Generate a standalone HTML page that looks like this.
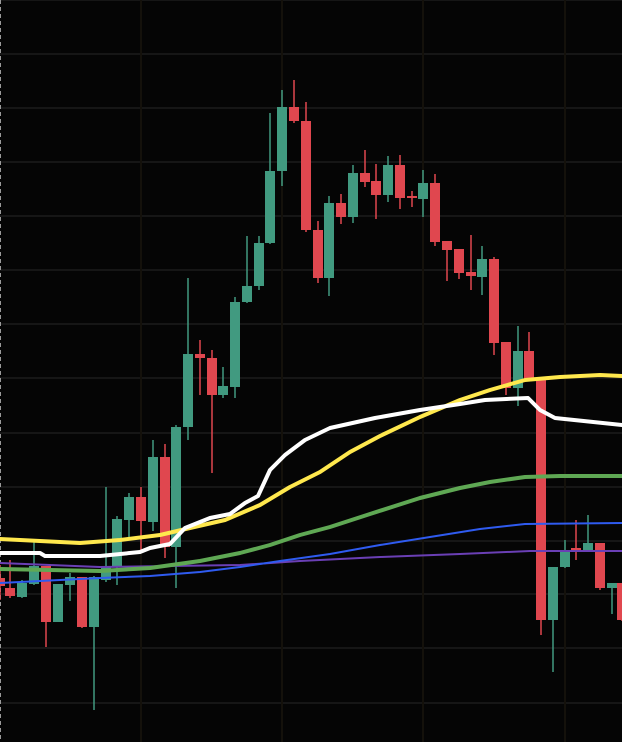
<!DOCTYPE html><html><head><style>html,body{margin:0;padding:0;background:#050505;}svg{display:block}</style></head><body>
<svg width="622" height="742" viewBox="0 0 622 742" xmlns="http://www.w3.org/2000/svg">
<rect width="622" height="742" fill="#050505"/>
<g stroke="#161616" stroke-width="2">
<line x1="0" y1="0" x2="622" y2="0"/><line x1="0" y1="54" x2="622" y2="54"/><line x1="0" y1="108" x2="622" y2="108"/><line x1="0" y1="162" x2="622" y2="162"/><line x1="0" y1="216" x2="622" y2="216"/><line x1="0" y1="270" x2="622" y2="270"/><line x1="0" y1="324" x2="622" y2="324"/><line x1="0" y1="378" x2="622" y2="378"/><line x1="0" y1="433" x2="622" y2="433"/><line x1="0" y1="487" x2="622" y2="487"/><line x1="0" y1="541" x2="622" y2="541"/><line x1="0" y1="594" x2="622" y2="594"/><line x1="0" y1="648" x2="622" y2="648"/><line x1="0" y1="703" x2="622" y2="703"/>
</g>
<g stroke="#14110b" stroke-width="2"><line x1="141" y1="0" x2="141" y2="742"/><line x1="282" y1="0" x2="282" y2="742"/><line x1="423" y1="0" x2="423" y2="742"/><line x1="565" y1="0" x2="565" y2="742"/></g>
<line x1="0.5" y1="0" x2="0.5" y2="742" stroke="#9a9a9a" stroke-dasharray="4 3"/>
<g fill="#419a80">
<rect x="21.25" y="580" width="1.5" height="18"/><rect x="17" y="583" width="10" height="14"/>
<rect x="33.25" y="542" width="1.5" height="43"/><rect x="29" y="566" width="10" height="18"/>
<rect x="57.25" y="584" width="1.5" height="38"/><rect x="53" y="584" width="10" height="38"/>
<rect x="69.25" y="573" width="1.5" height="28"/><rect x="65" y="577" width="10" height="8"/>
<rect x="93.25" y="576" width="1.5" height="134"/><rect x="89" y="577" width="10" height="50"/>
<rect x="105.25" y="487" width="1.5" height="95"/><rect x="101" y="566" width="10" height="14"/>
<rect x="116.25" y="516" width="1.5" height="69"/><rect x="112" y="519" width="10" height="47"/>
<rect x="128.25" y="493" width="1.5" height="45"/><rect x="124" y="497" width="10" height="23"/>
<rect x="152.25" y="440" width="1.5" height="91"/><rect x="148" y="457" width="10" height="65"/>
<rect x="175.25" y="425" width="1.5" height="163"/><rect x="171" y="427" width="10" height="120"/>
<rect x="187.25" y="278" width="1.5" height="162"/><rect x="183" y="354" width="10" height="73"/>
<rect x="222.25" y="367" width="1.5" height="31"/><rect x="218" y="386" width="10" height="9"/>
<rect x="234.25" y="297" width="1.5" height="101"/><rect x="230" y="302" width="10" height="85"/>
<rect x="246.25" y="236" width="1.5" height="67"/><rect x="242" y="286" width="10" height="16"/>
<rect x="258.25" y="236" width="1.5" height="54"/><rect x="254" y="243" width="10" height="43"/>
<rect x="269.25" y="113" width="1.5" height="131"/><rect x="265" y="171" width="10" height="72"/>
<rect x="281.25" y="90" width="1.5" height="96"/><rect x="277" y="107" width="10" height="64"/>
<rect x="328.25" y="196" width="1.5" height="100"/><rect x="324" y="203" width="10" height="75"/>
<rect x="352.25" y="165" width="1.5" height="58"/><rect x="348" y="173" width="10" height="44"/>
<rect x="387.25" y="156" width="1.5" height="46"/><rect x="383" y="165" width="10" height="30"/>
<rect x="422.25" y="170" width="1.5" height="47"/><rect x="418" y="183" width="10" height="16"/>
<rect x="481.25" y="246" width="1.5" height="49"/><rect x="477" y="259" width="10" height="18"/>
<rect x="517.25" y="326" width="1.5" height="80"/><rect x="513" y="351" width="10" height="37"/>
<rect x="552.25" y="567" width="1.5" height="105"/><rect x="548" y="567" width="10" height="53"/>
<rect x="564.25" y="540" width="1.5" height="28"/><rect x="560" y="550" width="10" height="17"/>
<rect x="587.25" y="515" width="1.5" height="36"/><rect x="583" y="543" width="10" height="7"/>
<rect x="611.25" y="583" width="1.5" height="31"/><rect x="607" y="583" width="10" height="5"/>
</g>
<g fill="#e0474f">
<rect x="-0.75" y="565" width="1.5" height="35"/><rect x="-5" y="578" width="10" height="8"/>
<rect x="9.25" y="560" width="1.5" height="38"/><rect x="5" y="588" width="10" height="8"/>
<rect x="45.25" y="566" width="1.5" height="81"/><rect x="41" y="566" width="10" height="56"/>
<rect x="81.25" y="577" width="1.5" height="51"/><rect x="77" y="577" width="10" height="50"/>
<rect x="140.25" y="487" width="1.5" height="66"/><rect x="136" y="497" width="10" height="24"/>
<rect x="164.25" y="444" width="1.5" height="114"/><rect x="160" y="457" width="10" height="90"/>
<rect x="199.25" y="340" width="1.5" height="55"/><rect x="195" y="354" width="10" height="4"/>
<rect x="211.25" y="350" width="1.5" height="123"/><rect x="207" y="358" width="10" height="37"/>
<rect x="293.25" y="80" width="1.5" height="43"/><rect x="289" y="107" width="10" height="14"/>
<rect x="305.25" y="102" width="1.5" height="130"/><rect x="301" y="121" width="10" height="109"/>
<rect x="317.25" y="221" width="1.5" height="62"/><rect x="313" y="230" width="10" height="48"/>
<rect x="340.25" y="194" width="1.5" height="30"/><rect x="336" y="203" width="10" height="14"/>
<rect x="364.25" y="150" width="1.5" height="37"/><rect x="360" y="173" width="10" height="9"/>
<rect x="375.25" y="164" width="1.5" height="55"/><rect x="371" y="181" width="10" height="14"/>
<rect x="399.25" y="155" width="1.5" height="54"/><rect x="395" y="165" width="10" height="33"/>
<rect x="411.25" y="191" width="1.5" height="16"/><rect x="407" y="196" width="10" height="2"/>
<rect x="434.25" y="174" width="1.5" height="72"/><rect x="430" y="183" width="10" height="59"/>
<rect x="446.25" y="241" width="1.5" height="40"/><rect x="442" y="241" width="10" height="9"/>
<rect x="458.25" y="249" width="1.5" height="30"/><rect x="454" y="249" width="10" height="24"/>
<rect x="470.25" y="235" width="1.5" height="55"/><rect x="466" y="272" width="10" height="4"/>
<rect x="493.25" y="257" width="1.5" height="98"/><rect x="489" y="259" width="10" height="84"/>
<rect x="505.25" y="342" width="1.5" height="53"/><rect x="501" y="342" width="10" height="46"/>
<rect x="528.25" y="332" width="1.5" height="49"/><rect x="524" y="351" width="10" height="29"/>
<rect x="540.25" y="380" width="1.5" height="255"/><rect x="536" y="380" width="10" height="240"/>
<rect x="575.25" y="520" width="1.5" height="40"/><rect x="571" y="548" width="10" height="3"/>
<rect x="599.25" y="543" width="1.5" height="47"/><rect x="595" y="543" width="10" height="45"/>
<rect x="621.25" y="583" width="1.5" height="38"/><rect x="617" y="583" width="10" height="37"/>
</g>
<g fill="none" stroke-linejoin="round" stroke-linecap="round">
<polyline stroke="#6a3fb5" stroke-width="2" points="0,563 100,567 170,566 240,565 300,561 380,557 460,554 530,551 622,551"/>
<polyline stroke="#2f5bf0" stroke-width="2" points="0,583 100,578 150,576 200,572 240,567 280,561 330,554 380,545 430,537 480,529 525,524 622,523"/>
<polyline stroke="#5fa854" stroke-width="4" points="0,569 100,571 150,568 200,561 240,553 270,545 300,535 330,527 370,514 420,498 460,488 490,482 525,477 560,476 622,476"/>
<polyline stroke="#ffe84d" stroke-width="4" points="0,539 40,541 80,543 120,540 160,535 190,528 225,520 260,505 290,487 320,472 350,452 380,436 420,417 460,400 490,390 525,380 560,377 600,375 622,376"/>
<polyline stroke="#ffffff" stroke-width="4" points="0,553 40,553 45,556 100,556 140,552 150,548 170,544 185,528 210,518 230,514 245,503 258,496 270,470 285,455 305,440 330,428 375,418 420,410 460,404 485,400 528,398 540,410 555,418 622,425"/>
</g>
</svg></body></html>
